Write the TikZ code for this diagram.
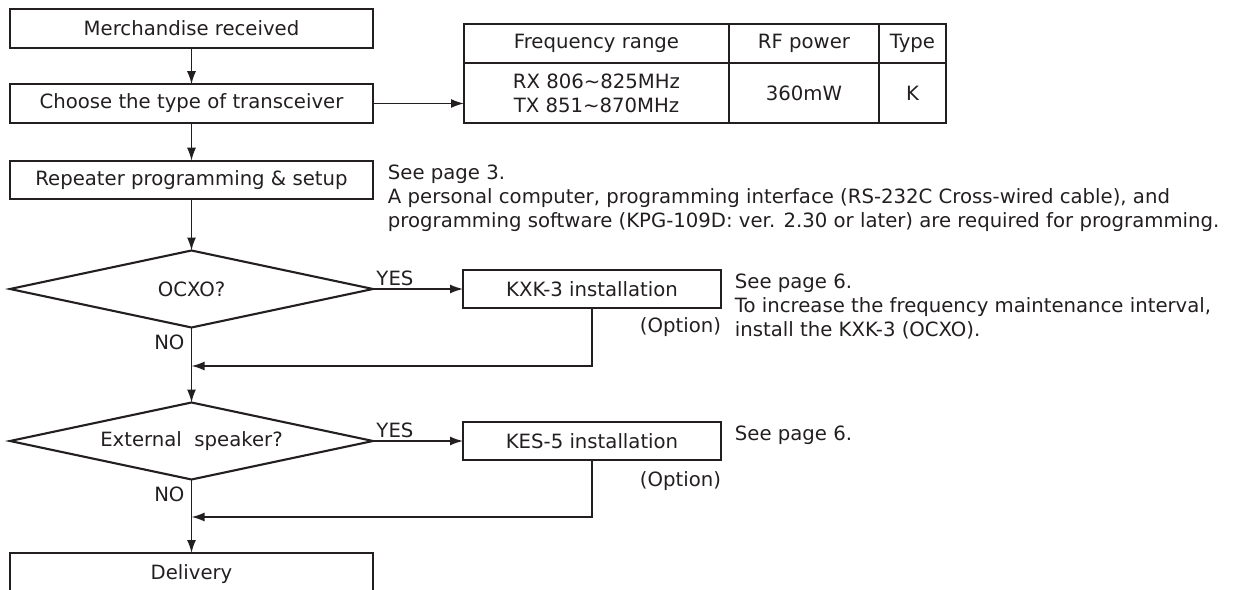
\documentclass[tikz,border=0pt]{standalone}
\usepackage{fontspec}
\setmainfont{DejaVu Sans}
\usetikzlibrary{shapes.geometric,arrows.meta,positioning}
\definecolor{ink}{HTML}{231F20}

\begin{document}
\begin{tikzpicture}[x=0.02cm,y=-0.02cm,
    color=ink,line width=0.9pt,
    font=\fontsize{11.2}{13.6}\selectfont,
    every node/.style={outer sep=0pt},
    process box/.style={rectangle,draw,line width=1.2pt,inner sep=0pt,
      minimum width=7.26cm,minimum height=0.77cm},
    decision/.style={diamond,draw,line width=1.2pt,inner sep=0pt,aspect=4.7,
      minimum width=7.26cm,minimum height=1.54cm},
    option box/.style={rectangle,draw,line width=1.2pt,inner sep=0pt,
      minimum width=5.16cm,minimum height=0.76cm},
    cell/.style={rectangle,draw,line width=0.8pt,inner sep=0pt,align=center},
    note/.style={anchor=north west,inner sep=0pt,align=left},
    arr/.style={-{Latex[length=2.6mm,width=1.8mm]}}]

  \useasboundingbox (0,0) rectangle (1243,590);
  \clip (0,0) rectangle (1243,590);

  % Define vertices
  \node[process box] (recv) at (191.5,28.5) {Merchandise received};
  \node[process box] (choose) at (191.5,103.5) {Choose the type of transceiver};
  \node[process box] (repeat) at (191.5,180) {Repeater programming \& setup};
  \node[decision] (ocxo) at (191.5,289) {OCXO?};
  \node[option box] (kxk) at (592,289) {KXK-3 installation};
  \node[decision] (spk) at (191.5,441) {External\ \ speaker?};
  \node[option box] (kes) at (592,441) {KES-5 installation};
  \node[process box,minimum height=0.84cm] (deliv) at (191.5,574) {Delivery};

  \coordinate (j1) at (191.5,366);
  \coordinate (j2) at (191.5,517);

  % Table
  \node[cell,minimum width=5.3cm,minimum height=0.78cm] (freq) at (596.5,43.5) {Frequency range};
  \node[cell,minimum width=3cm,minimum height=0.78cm,right=0pt of freq] (power) {RF power};
  \node[cell,minimum width=1.34cm,minimum height=0.78cm,right=0pt of power] (type) {Type};
  \node[cell,minimum width=5.3cm,minimum height=1.2cm,below=0pt of freq] (range)
    {RX 806\textasciitilde 825MHz\\TX 851\textasciitilde 870MHz};
  \node[cell,minimum width=3cm,minimum height=1.2cm,below=0pt of power] (mw) {360mW};
  \node[cell,minimum width=1.34cm,minimum height=1.2cm,below=0pt of type] (typek) {K};
  \draw[line width=1.2pt] (freq.north west) rectangle (typek.south east);

  % Notes
  \node[note] (note3) at ([xshift=0.3cm,yshift=-0.08cm]repeat.north east)
    {See page 3.\\
     A personal computer, programming interface (RS-232C Cross-wired cable), and\\
     programming software (KPG-109D: ver. 2.30 or later) are required for programming.};
  \node[note] (note6a) at ([xshift=0.28cm,yshift=-0.08cm]kxk.north east)
    {See page 6.\\
     To increase the frequency maintenance interval,\\
     install the KXK-3 (OCXO).};
  \node[note] (note6b) at ([xshift=0.28cm,yshift=-0.08cm]kes.north east) {See page 6.};
  \node[anchor=north east,inner sep=0pt] (opt1) at ([yshift=-0.2cm]kxk.south east) {(Option)};
  \node[anchor=north east,inner sep=0pt] (opt2) at ([yshift=-0.24cm]kes.south east) {(Option)};

  % Draw edges
  \path
    (recv) edge[arr] (choose)
    (choose) edge[arr] (repeat)
    (choose.east) edge[arr] (choose.east -| range.west)
    (repeat) edge[arr] (ocxo)
    (ocxo) edge[arr] node[pos=0,above right,inner sep=2pt] {YES} (kxk)
    (ocxo) edge[arr] node[pos=0,below left,inner sep=4pt] {NO} (spk)
    (spk) edge[arr] node[pos=0,above right,inner sep=2pt] {YES} (kes)
    (spk) edge[arr] node[pos=0,below left,inner sep=4pt] {NO} (deliv);
  \draw[arr] (kxk) |- (j1);
  \draw[arr] (kes) |- (j2);

\end{tikzpicture}
\end{document}
